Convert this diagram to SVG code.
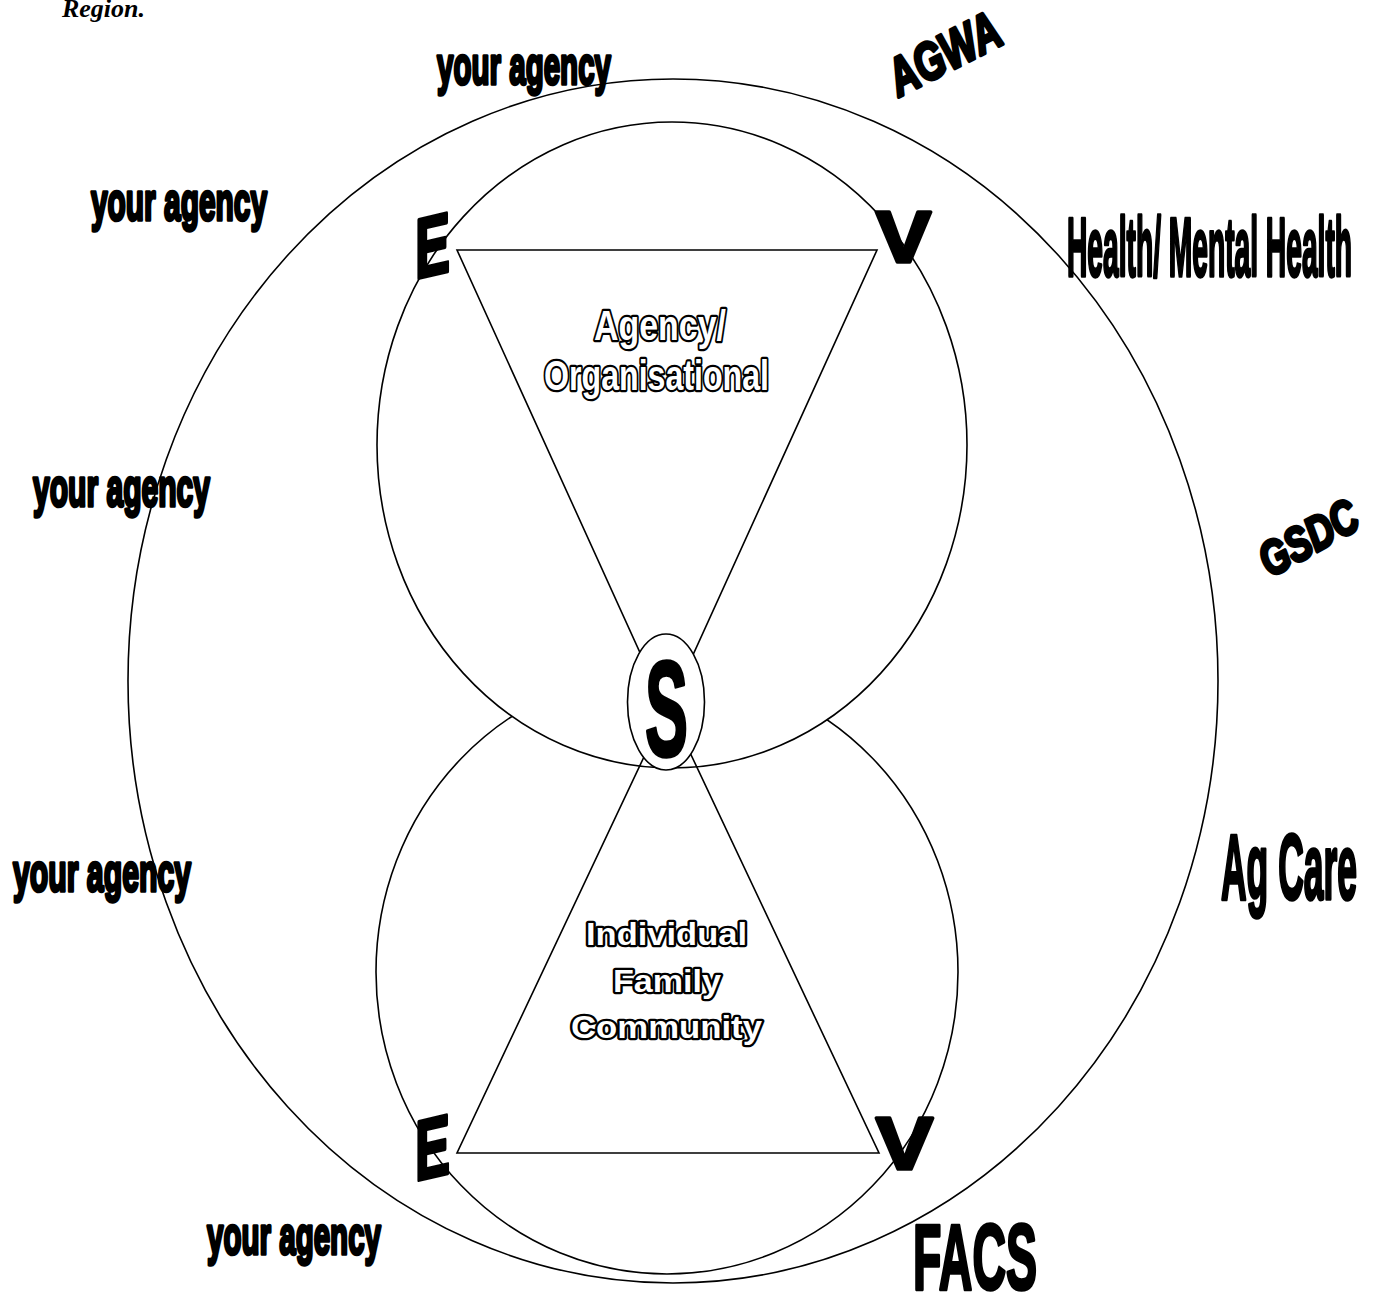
<svg xmlns="http://www.w3.org/2000/svg" width="1378" height="1293" viewBox="0 0 1378 1293">
<style>
.ln{fill:none;stroke:#000;stroke-width:1.6}
.wf{fill:#fff;stroke:#000;stroke-width:1.6}
.bk{font-family:"Liberation Sans",Arial,sans-serif;font-weight:bold;fill:#000;stroke:#000;stroke-width:3.6;stroke-linejoin:round}
.ol{font-family:"Liberation Sans",Arial,sans-serif;font-weight:bold;fill:#fff;stroke:#000;stroke-width:4.5;stroke-linejoin:round;paint-order:stroke}
.ya{font-size:54px}
</style>
<rect width="1378" height="1293" fill="#fff"/>
<text x="62" y="17" font-family="'Liberation Serif',serif" font-weight="bold" font-style="italic" font-size="26" textLength="83" lengthAdjust="spacingAndGlyphs">Region.</text>
<g id="outer"><ellipse class="wf" cx="673" cy="681" rx="545" ry="602"/></g>
<g id="lower-circle"><ellipse class="wf" cx="667" cy="972" rx="291" ry="302"/></g>
<g id="upper-circle"><ellipse class="wf" cx="672" cy="445" rx="295" ry="323"/></g>
<g id="upper-triangle"><polygon class="ln" points="457,250 877,250 667,712"/></g>
<g id="lower-triangle"><polygon class="ln" points="457,1153 879,1153 668,706"/></g>
<g id="s-node"><ellipse class="wf" cx="666" cy="702" rx="38.5" ry="68"/>
<text class="bk" x="645" y="756" font-size="136" textLength="43" lengthAdjust="spacingAndGlyphs" stroke-width="4.5">S</text></g>
<g id="e-top"><text class="bk" transform="translate(415,279) skewY(-13)" x="0" y="0" font-size="85" textLength="35" lengthAdjust="spacingAndGlyphs" stroke-width="4">E</text></g>
<g id="v-top"><text class="bk" x="876" y="262" font-size="72" textLength="55" lengthAdjust="spacingAndGlyphs" stroke-width="4">V</text></g>
<g id="e-bottom"><text class="bk" transform="translate(415,1181) skewY(-13)" x="0" y="0" font-size="85" textLength="35" lengthAdjust="spacingAndGlyphs" stroke-width="4">E</text></g>
<g id="v-bottom"><text class="bk" x="876" y="1169" font-size="75" textLength="57" lengthAdjust="spacingAndGlyphs" stroke-width="4">V</text></g>
<g id="agency-label">
<text class="ol" x="594" y="340" font-size="42" textLength="132" lengthAdjust="spacingAndGlyphs">Agency/</text>
<text class="ol" x="544" y="390" font-size="42" textLength="225" lengthAdjust="spacingAndGlyphs">Organisational</text>
</g>
<g id="individual-label">
<text class="ol" x="586" y="945" font-size="31" textLength="161" lengthAdjust="spacingAndGlyphs">Individual</text>
<text class="ol" x="613" y="992" font-size="31" textLength="108" lengthAdjust="spacingAndGlyphs">Family</text>
<text class="ol" x="571" y="1038" font-size="31" textLength="191" lengthAdjust="spacingAndGlyphs">Community</text>
</g>
<g id="your-agency-1"><text class="bk ya" x="437" y="84" textLength="174" lengthAdjust="spacingAndGlyphs">your agency</text></g>
<g id="your-agency-2"><text class="bk ya" x="91" y="220" textLength="176" lengthAdjust="spacingAndGlyphs">your agency</text></g>
<g id="your-agency-3"><text class="bk ya" x="33" y="506" textLength="177" lengthAdjust="spacingAndGlyphs">your agency</text></g>
<g id="your-agency-4"><text class="bk ya" x="13" y="891" textLength="178" lengthAdjust="spacingAndGlyphs">your agency</text></g>
<g id="your-agency-5"><text class="bk ya" x="207" y="1254" textLength="174" lengthAdjust="spacingAndGlyphs">your agency</text></g>
<g id="agwa"><text class="bk" transform="translate(899,97) rotate(-27)" x="0" y="0" font-size="53" font-style="italic" textLength="120" lengthAdjust="spacingAndGlyphs">AGWA</text></g>
<g id="gsdc"><text class="bk" transform="translate(1270,578) rotate(-29)" x="0" y="0" font-size="48" font-style="italic" textLength="106" lengthAdjust="spacingAndGlyphs">GSDC</text></g>
<g id="health"><text class="bk" x="1067" y="276" font-size="84" textLength="285" lengthAdjust="spacingAndGlyphs" stroke-width="4.5">Health/ Mental Health</text></g>
<g id="agcare"><text class="bk" x="1221" y="899" font-size="92" textLength="136" lengthAdjust="spacingAndGlyphs" stroke-width="4.5">Ag Care</text></g>
<g id="facs"><text class="bk" x="913" y="1289" font-size="93" textLength="124" lengthAdjust="spacingAndGlyphs" stroke-width="4.5">FACS</text></g>
<g id="connectors"></g>
</svg>
